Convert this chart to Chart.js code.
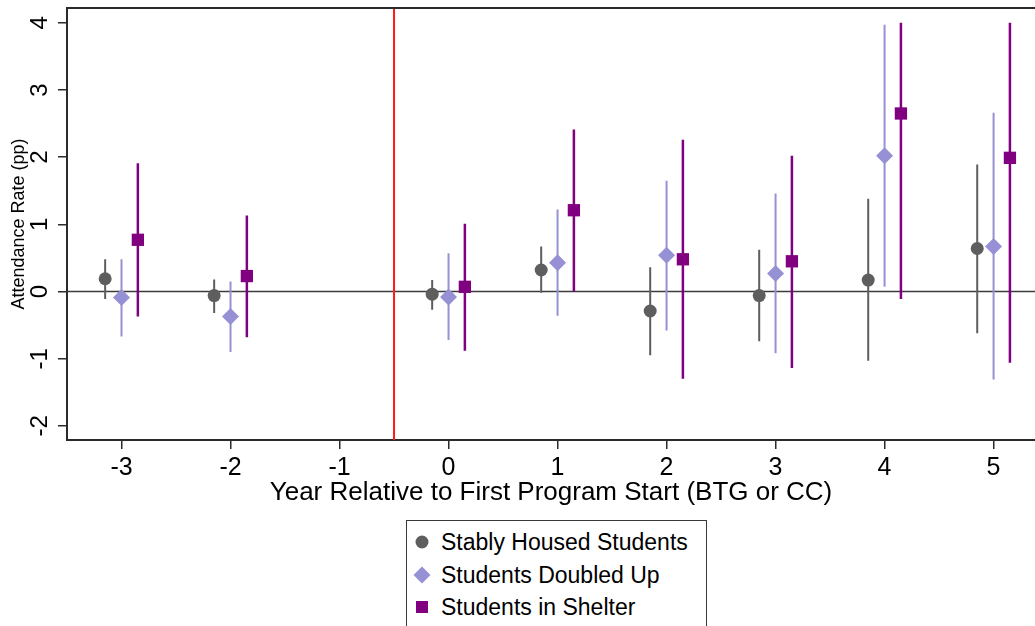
<!DOCTYPE html>
<html lang="en">
<head>
    <meta charset="UTF-8">
    <title>Attendance Rate Event Study</title>
    <script src="https://cdn.jsdelivr.net/npm/chart.js"></script>
    <style>
        body { margin: 0; background: #fff; font-family: "Liberation Sans", Arial, sans-serif; }
        .wrap { position: relative; width: 1035px; height: 626px; overflow: hidden; }
        #legendBox {
            position: absolute; left: 406px; top: 520px; width: 301px; height: 120px;
            border: 1.5px solid #3a3a3a; box-sizing: border-box; padding-top: 5px;
        }
        .item { position: relative; height: 32.5px; line-height: 32.5px; font-size: 23px; color: #000; padding-left: 34px; }
        .mk { position: absolute; top: 50%; left: 15px; transform: translate(-50%, -50%); }
        .circle { width: 13px; height: 13px; border-radius: 50%; background: #5e5e5e; }
        .diamond { width: 12px; height: 12px; background: #9691d5; transform: translate(-50%, -50%) rotate(45deg); }
        .square { width: 12px; height: 12px; background: #800080; }
    </style>
</head>
<body>
<div class="wrap">
    <canvas id="chart" width="1035" height="512"></canvas>
    <div id="legendBox"></div>
</div>
<script>
    // event years and tick values
    const years = [-3, -2, 0, 1, 2, 3, 4, 5];
    const xTickVals = [-3, -2, -1, 0, 1, 2, 3, 4, 5];
    const yTickVals = [-2, -1, 0, 1, 2, 3, 4];

    // point estimates and 95% CIs (pp)
    const stablyEst = [0.19, -0.06, -0.04, 0.32, -0.29, -0.06, 0.17, 0.64];
    const stablyLo  = [-0.11, -0.32, -0.27, -0.02, -0.95, -0.74, -1.03, -0.62];
    const stablyHi  = [0.48, 0.18, 0.17, 0.67, 0.36, 0.62, 1.38, 1.89];

    const doubledEst = [-0.09, -0.37, -0.08, 0.43, 0.54, 0.27, 2.02, 0.67];
    const doubledLo  = [-0.67, -0.90, -0.72, -0.36, -0.58, -0.92, 0.07, -1.31];
    const doubledHi  = [0.48, 0.15, 0.57, 1.22, 1.65, 1.46, 3.97, 2.66];

    const shelterEst = [0.77, 0.23, 0.07, 1.21, 0.48, 0.45, 2.65, 1.99];
    const shelterLo  = [-0.37, -0.68, -0.88, 0.00, -1.30, -1.14, -0.11, -1.06];
    const shelterHi  = [1.91, 1.13, 1.01, 2.41, 2.26, 2.02, 4.00, 4.00];

    const seriesNames = ['Stably Housed Students', 'Students Doubled Up', 'Students in Shelter'];
    const programStart = -0.5;

    const FONT = '"Liberation Sans", Arial, sans-serif';
    const series = [
        { name: seriesNames[0], est: stablyEst, lo: stablyLo, hi: stablyHi, shift: -0.15, color: '#5e5e5e', style: 'circle', r: 6.5, lw: 2 },
        { name: seriesNames[1], est: doubledEst, lo: doubledLo, hi: doubledHi, shift: 0, color: '#9691d5', style: 'rectRot', r: 8.5, lw: 2 },
        { name: seriesNames[2], est: shelterEst, lo: shelterLo, hi: shelterHi, shift: 0.15, color: '#800080', style: 'rect', r: 8.7, lw: 2.5 }
    ];

    const pointSets = series.map(s => ({
        label: s.name,
        data: years.map((yr, i) => ({ x: yr + s.shift, y: s.est[i] })),
        showLine: false,
        pointStyle: s.style,
        pointRadius: s.r,
        backgroundColor: s.color,
        borderWidth: 0
    }));

    // CI whiskers: pairs of points separated by gaps
    const ciSets = series.map(s => {
        const pts = [];
        years.forEach((yr, i) => {
            pts.push({ x: yr + s.shift, y: s.lo[i] });
            pts.push({ x: yr + s.shift, y: s.hi[i] });
            pts.push({ x: yr + s.shift, y: null });
        });
        return {
            label: s.name + ' CI',
            data: pts,
            showLine: true,
            spanGaps: false,
            pointRadius: 0,
            borderColor: s.color,
            borderWidth: s.lw
        };
    });

    const refLines = {
        id: 'refLines',
        beforeDatasetsDraw(chart) {
            const { ctx, chartArea: a, scales: { x, y } } = chart;
            ctx.save();
            // zero line
            ctx.strokeStyle = '#3c3c3c';
            ctx.lineWidth = 1.6;
            ctx.beginPath();
            ctx.moveTo(a.left, y.getPixelForValue(0));
            ctx.lineTo(a.right, y.getPixelForValue(0));
            ctx.stroke();
            // program start
            ctx.strokeStyle = '#ff1a1a';
            ctx.lineWidth = 2;
            ctx.beginPath();
            ctx.moveTo(x.getPixelForValue(programStart), a.top);
            ctx.lineTo(x.getPixelForValue(programStart), a.bottom);
            ctx.stroke();
            // top frame
            ctx.strokeStyle = '#2b2b2b';
            ctx.lineWidth = 2;
            ctx.beginPath();
            ctx.moveTo(a.left, a.top);
            ctx.lineTo(a.right, a.top);
            ctx.stroke();
            ctx.restore();
        }
    };

    new Chart(document.getElementById('chart'), {
        type: 'scatter',
        data: { datasets: [...pointSets, ...ciSets] },
        options: {
            responsive: false,
            animation: false,
            layout: { autoPadding: false, padding: { top: 8, right: 0, left: 0, bottom: 0 } },
            plugins: { legend: { display: false }, tooltip: { enabled: false } },
            scales: {
                x: {
                    type: 'linear',
                    min: -3.5,
                    max: 5.38,
                    afterBuildTicks: s => { s.ticks = xTickVals.map(v => ({ value: v })); },
                    afterFit: s => { s.height = 72; s.paddingLeft = 0; s.paddingRight = 0; },
                    grid: { drawOnChartArea: false, drawTicks: true, tickLength: 9, color: '#2b2b2b', lineWidth: 1.5 },
                    border: { display: true, color: '#2b2b2b', width: 2 },
                    ticks: { color: '#000', padding: 4, font: { family: FONT, size: 25 }, maxRotation: 0 },
                    title: { display: true, text: 'Year Relative to First Program Start (BTG or CC)', color: '#000',
                             font: { family: FONT, size: 26 }, padding: { top: 0, bottom: 4 } }
                },
                y: {
                    min: -2.21,
                    max: 4.22,
                    afterBuildTicks: s => { s.ticks = yTickVals.map(v => ({ value: v })); },
                    afterFit: s => { s.width = 67; s.paddingTop = 0; s.paddingBottom = 0; },
                    grid: { drawOnChartArea: false, drawTicks: true, tickLength: 9, color: '#2b2b2b', lineWidth: 1.5 },
                    border: { display: true, color: '#2b2b2b', width: 2 },
                    ticks: { color: '#000', padding: 7, minRotation: 90, maxRotation: 90, crossAlign: 'center',
                             font: { family: FONT, size: 24 } },
                    title: { display: true, text: 'Attendance Rate (pp)', color: '#000',
                             font: { family: FONT, size: 18 }, padding: { top: 8, bottom: 0 } }
                }
            }
        },
        plugins: [refLines]
    });

    // legend below the plot
    const marks = ['circle', 'diamond', 'square'];
    document.getElementById('legendBox').innerHTML = seriesNames.map((n, i) =>
        `<div class="item"><span class="mk ${marks[i]}"></span>${n}</div>`).join('');
</script>
</body>
</html>
